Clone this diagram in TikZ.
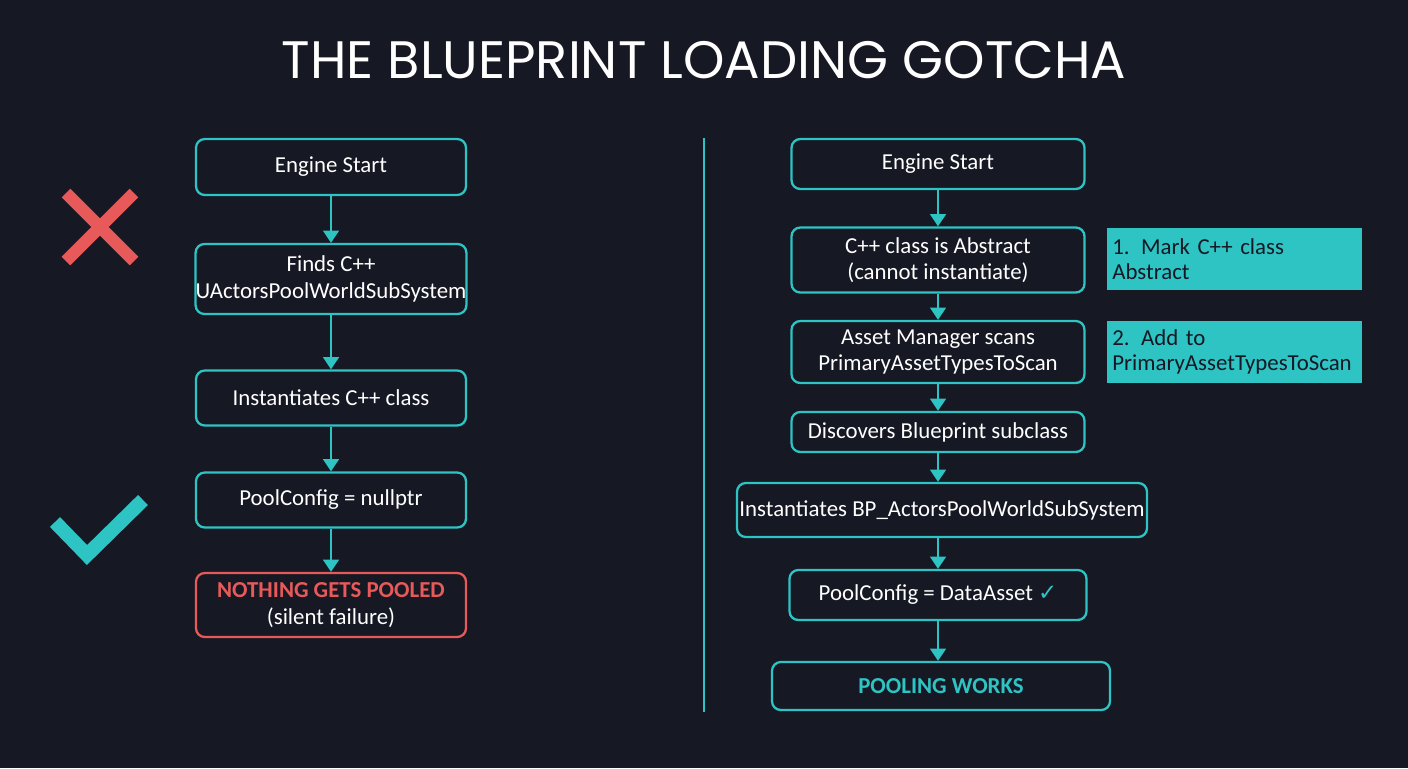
\documentclass[tikz,border=0pt]{standalone}
\usepackage{fontspec}
\setmainfont{Carlito}
\newfontfamily\titlefont{Poppins}
\newfontfamily\symfont{DejaVu Sans}
\usetikzlibrary{arrows.meta}
\definecolor{bgdark}{HTML}{161824}
\definecolor{teal}{HTML}{2EC4C4}
\definecolor{errred}{HTML}{E85A5A}
\tikzset{
  box/.style={draw=teal,line width=1.3pt,rounded corners=5pt,text=white,align=center,font=\fontsize{13}{15}\selectfont,inner sep=0pt},
  note/.style={fill=teal,text=bgdark,align=left,anchor=west,font=\fontsize{13}{14}\selectfont,inner sep=0pt},
  arrow/.style={teal,line width=1.3pt,-{Triangle[length=7pt,width=9pt]}}
}
\begin{document}
\begin{tikzpicture}[x=0.02cm,y=-0.02cm]
  \fill[bgdark] (0,0) rectangle (1408,768);
  \useasboundingbox (0,0) rectangle (1408,768);
  \node[text=white,font=\titlefont\fontsize{30}{34}\selectfont] (title) at (704,60) {THE BLUEPRINT LOADING GOTCHA};

  % left column
  \node[box,minimum width=270*0.02cm,minimum height=56*0.02cm] (la) at (331,167) {Engine Start};
  \node[box,minimum width=270*0.02cm,minimum height=70*0.02cm] (lb) at (331,279) {Finds C++\\UActorsPoolWorldSubSystem};
  \node[box,minimum width=270*0.02cm,minimum height=55*0.02cm] (lc) at (331,398) {Instantiates C++ class};
  \node[box,minimum width=270*0.02cm,minimum height=55*0.02cm] (ld) at (331,500) {PoolConfig = nullptr};
  \node[box,draw=errred,minimum width=270*0.02cm,minimum height=64*0.02cm] (le) at (331,605) {{\color{errred}\bfseries NOTHING GETS POOLED}\\(silent failure)};
  \foreach \a/\b in {la/lb,lb/lc,lc/ld,ld/le}
    \draw[arrow] (\a) -- (\b);

  % marks
  \draw[errred,line width=7pt] (66,193) -- (134,261) (134,193) -- (66,261);
  \draw[teal,line width=8pt,line join=miter] (55,522) -- (87,555) -- (143,500);

  % divider
  \coordinate (dtop) at (704,138);
  \coordinate (dbot) at (704,712);
  \draw[teal,line width=1.3pt] (dtop) -- (dbot);

  % right column
  \node[box,minimum width=293*0.02cm,minimum height=50*0.02cm] (ra) at (938,164) {Engine Start};
  \node[box,minimum width=293*0.02cm,minimum height=65*0.02cm] (rb) at (938,260) {C++ class is Abstract\\(cannot instantiate)};
  \node[box,minimum width=293*0.02cm,minimum height=62*0.02cm] (rc) at (938,352) {Asset Manager scans\\PrimaryAssetTypesToScan};
  \node[box,minimum width=293*0.02cm,minimum height=40*0.02cm] (rd) at (938,432) {Discovers Blueprint subclass};
  \node[box,minimum width=410*0.02cm,minimum height=54*0.02cm] (re) at (942,510) {Instantiates BP\_ActorsPoolWorldSubSystem};
  \node[box,minimum width=297*0.02cm,minimum height=50*0.02cm] (rf) at (938,595) {PoolConfig = DataAsset {\symfont\color{teal}✓}};
  \node[box,minimum width=338*0.02cm,minimum height=48*0.02cm] (rg) at (941,686) {\color{teal}\bfseries POOLING WORKS};
  \foreach \a/\b in {ra/rb,rb/rc,rc/rd,rd/re,re/rf,rf/rg}
    \draw[arrow] (\a.south -| ra) -- (\b.north -| ra);

  % notes
  \node[note,minimum width=255*0.02cm,minimum height=62*0.02cm,text width=245*0.02cm] (na) at (1107,259) {1. Mark C++ class\\Abstract};
  \node[note,minimum width=255*0.02cm,minimum height=62*0.02cm,text width=245*0.02cm] (nb) at (1107,352) {2. Add to\\PrimaryAssetTypesToScan};
\end{tikzpicture}
\end{document}
